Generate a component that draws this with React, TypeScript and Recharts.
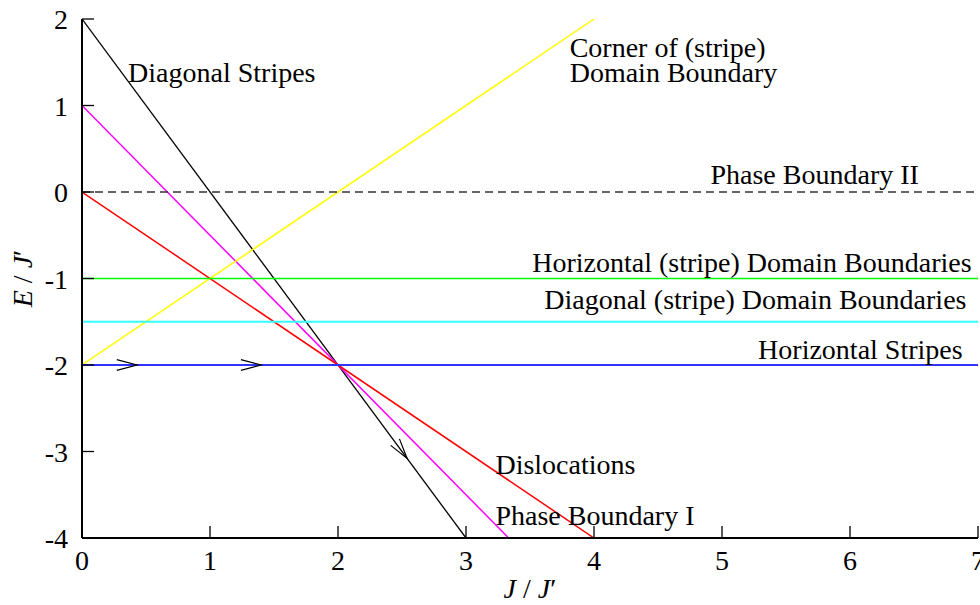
import { ComposedChart, Line, Scatter, XAxis, YAxis } from "recharts";

const FONT = "'Liberation Serif', 'Times New Roman', serif";
const WIDTH = 980;
const HEIGHT = 605;
const MARGIN = { top: 19, right: 2, left: 0, bottom: 0 };
const Y_AXIS_W = 82;
const X_AXIS_H = 67;
const PX_PER_J = (WIDTH - Y_AXIS_W - MARGIN.right) / 7;
const PX_PER_E = (HEIGHT - MARGIN.top - X_AXIS_H) / 6;

const J_TICKS = [0, 1, 2, 3, 4, 5, 6, 7];
const E_TICKS = [-4, -3, -2, -1, 0, 1, 2];

// energy lines E(J) as end points
const diagonalStripes = [{ J: 0, E: 2 }, { J: 3, E: -4 }];
const phaseBoundaryI = [{ J: 0, E: 1 }, { J: 10 / 3, E: -4 }];
const dislocations = [{ J: 0, E: 0 }, { J: 4, E: -4 }];
const cornerDomainBoundary = [{ J: 0, E: -2 }, { J: 4, E: 2 }];
const phaseBoundaryII = [{ J: 0, E: 0 }, { J: 7, E: 0 }];
const horizontalDomainBoundaries = [{ J: 0, E: -1 }, { J: 7, E: -1 }];
const diagonalDomainBoundaries = [{ J: 0, E: -1.5 }, { J: 7, E: -1.5 }];
const horizontalStripes = [{ J: 0, E: -2 }, { J: 7, E: -2 }];

// open arrow heads: position + direction along the line
const arrows = [
  { J: 0.43, E: -2, dJ: 1, dE: 0 },
  { J: 1.4, E: -2, dJ: 1, dE: 0 },
  { J: 2.54, E: -3.08, dJ: 1, dE: -2 },
];

const labels = [
  { J: 0.36, E: 1.27, text: "Diagonal Stripes", anchor: "start" },
  { J: 3.81, E: 1.56, text: "Corner of (stripe)\nDomain Boundary", anchor: "start" },
  { J: 4.91, E: 0.09, text: "Phase Boundary II", anchor: "start" },
  { J: 6.95, E: -0.925, text: "Horizontal (stripe) Domain Boundaries", anchor: "end" },
  { J: 6.91, E: -1.353, text: "Diagonal (stripe) Domain Boundaries", anchor: "end" },
  { J: 6.88, E: -1.93, text: "Horizontal Stripes", anchor: "end" },
  { J: 3.23, E: -3.26, text: "Dislocations", anchor: "start" },
  { J: 3.23, E: -3.85, text: "Phase Boundary I", anchor: "start" },
];

const TICK_LEN = 12;

function BottomTick({ x, y, payload }: any) {
  return (
    <g>
      <line x1={x} y1={y} x2={x} y2={y - TICK_LEN} stroke="#000" strokeWidth={1.3} />
      <text x={x} y={y + 32} textAnchor="middle" fontSize={28} fontFamily={FONT} fill="#000">
        {payload.value}
      </text>
    </g>
  );
}

function TopTick({ x, y }: any) {
  return <line x1={x} y1={y} x2={x} y2={y + TICK_LEN} stroke="#000" strokeWidth={1.3} />;
}

function LeftTick({ x, y, payload }: any) {
  return (
    <g>
      <line x1={x} y1={y} x2={x + TICK_LEN} y2={y} stroke="#000" strokeWidth={1.3} />
      <text x={x - 14} y={y + 10} textAnchor="end" fontSize={28} fontFamily={FONT} fill="#000">
        {payload.value}
      </text>
    </g>
  );
}

function RightTick({ x, y }: any) {
  return <line x1={x} y1={y} x2={x - TICK_LEN} y2={y} stroke="#000" strokeWidth={1.3} />;
}

function XTitle({ viewBox }: any) {
  const cx = viewBox.x + viewBox.width / 2;
  return (
    <text x={cx} y={viewBox.y + 60} textAnchor="middle" fontSize={28} fontFamily={FONT} fill="#000">
      <tspan fontStyle="italic">J</tspan>
      <tspan> / </tspan>
      <tspan fontStyle="italic">J</tspan>
      <tspan>′</tspan>
    </text>
  );
}

function YTitle({ viewBox }: any) {
  const x = viewBox.x + 32;
  const y = viewBox.y + viewBox.height / 2;
  return (
    <text
      x={x}
      y={y}
      transform={`rotate(-90 ${x} ${y})`}
      textAnchor="middle"
      fontSize={28}
      fontFamily={FONT}
      fill="#000"
    >
      <tspan fontStyle="italic">E</tspan>
      <tspan> / </tspan>
      <tspan fontStyle="italic">J</tspan>
      <tspan>′</tspan>
    </text>
  );
}

function ArrowHead({ cx, cy, payload }: any) {
  const px = payload.dJ * PX_PER_J;
  const py = -payload.dE * PX_PER_E;
  const n = Math.hypot(px, py);
  const ux = px / n;
  const uy = py / n;
  const len = 21;
  const a = (15 * Math.PI) / 180;
  const wing = (s: number) => {
    const c = Math.cos(s * a);
    const sn = Math.sin(s * a);
    const rx = ux * c - uy * sn;
    const ry = ux * sn + uy * c;
    return `${cx - len * rx},${cy - len * ry}`;
  };
  return (
    <polyline
      points={`${wing(1)} ${cx},${cy} ${wing(-1)}`}
      fill="none"
      stroke="#000"
      strokeWidth={1.2}
    />
  );
}

function LabelText({ cx, cy, payload }: any) {
  const lines = String(payload.text).split("\n");
  return (
    <text x={cx} y={cy} textAnchor={payload.anchor} fontSize={28} fontFamily={FONT} fill="#000">
      {lines.map((t: string, i: number) => (
        <tspan key={i} x={cx} dy={i === 0 ? 0 : 25}>
          {t}
        </tspan>
      ))}
    </text>
  );
}

const lineProps = {
  dataKey: "E",
  dot: false,
  activeDot: false,
  isAnimationActive: false,
  strokeWidth: 1.5,
  type: "linear" as const,
};

export default function App() {
  return (
    <div style={{ position: "absolute", left: 0, top: 0, width: WIDTH, height: HEIGHT, background: "#fff" }}>
      <ComposedChart width={WIDTH} height={HEIGHT} margin={MARGIN}>
        <XAxis
          dataKey="J"
          type="number"
          domain={[0, 7]}
          ticks={J_TICKS}
          interval={0}
          allowDataOverflow
          height={X_AXIS_H}
          tickSize={0}
          tickMargin={0}
          tickLine={false}
          tick={<BottomTick />}
          axisLine={{ stroke: "#000", strokeWidth: 2 }}
          label={XTitle}
        />
        <XAxis
          xAxisId="top"
          orientation="top"
          type="number"
          domain={[0, 7]}
          ticks={J_TICKS.slice(1, -1)}
          interval={0}
          allowDataOverflow
          height={0}
          tickSize={0}
          tickMargin={0}
          tickLine={false}
          tick={<TopTick />}
          axisLine={{ stroke: "#000", strokeWidth: 2 }}
        />
        <YAxis
          dataKey="E"
          type="number"
          domain={[-4, 2]}
          ticks={E_TICKS}
          interval={0}
          allowDataOverflow
          width={Y_AXIS_W}
          tickSize={0}
          tickMargin={0}
          tickLine={false}
          tick={<LeftTick />}
          axisLine={{ stroke: "#000", strokeWidth: 2 }}
          label={YTitle}
        />
        <YAxis
          yAxisId="right"
          orientation="right"
          type="number"
          domain={[-4, 2]}
          ticks={E_TICKS.slice(1, -1)}
          interval={0}
          allowDataOverflow
          width={0}
          tickSize={0}
          tickMargin={0}
          tickLine={false}
          tick={<RightTick />}
          axisLine={{ stroke: "#000", strokeWidth: 2 }}
        />
        <Line {...lineProps} data={diagonalStripes} stroke="#000000" strokeWidth={1.3} />
        <Line {...lineProps} data={phaseBoundaryI} stroke="#ff00ff" />
        <Line {...lineProps} data={dislocations} stroke="#ff0000" />
        <Line {...lineProps} data={cornerDomainBoundary} stroke="#ffff00" />
        <Line {...lineProps} data={phaseBoundaryII} stroke="#333333" strokeWidth={1.3} strokeDasharray="8 5" />
        <Line {...lineProps} data={horizontalDomainBoundaries} stroke="#00ff00" />
        <Line {...lineProps} data={diagonalDomainBoundaries} stroke="#33ffff" strokeWidth={2} />
        <Line {...lineProps} data={horizontalStripes} stroke="#3333ff" strokeWidth={2} />
        <Scatter data={arrows} dataKey="E" shape={ArrowHead} isAnimationActive={false} />
        <Scatter data={labels} dataKey="E" shape={LabelText} isAnimationActive={false} />
      </ComposedChart>
    </div>
  );
}
